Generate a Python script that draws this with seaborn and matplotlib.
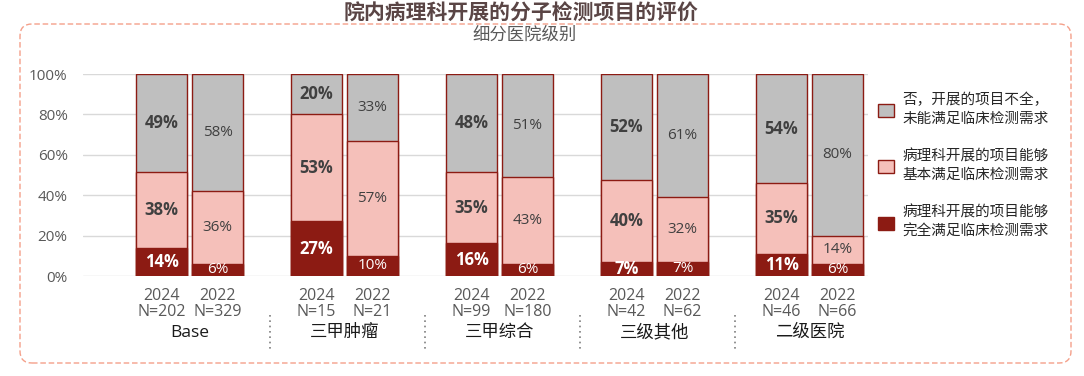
import matplotlib
matplotlib.use("Agg")
import matplotlib.pyplot as plt
import seaborn as sns
import pandas as pd
from matplotlib.patches import FancyBboxPatch, Patch

# ---------------- data ----------------
groups = ["Base", "三甲肿瘤", "三甲综合", "三级其他", "二级医院"]
years = ["2024", "2022"]
n_2024 = [202, 15, 99, 42, 46]
n_2022 = [329, 21, 180, 62, 66]
full_2024 = [14, 27, 16, 7, 11]
full_2022 = [6, 10, 6, 7, 6]
basic_2024 = [38, 53, 35, 40, 35]
basic_2022 = [36, 57, 43, 32, 14]
no_2024 = [49, 20, 48, 52, 54]
no_2022 = [58, 33, 51, 61, 80]
legend_labels = ["否，开展的项目不全，\n未能满足临床检测需求",
                 "病理科开展的项目能够\n基本满足临床检测需求",
                 "病理科开展的项目能够\n完全满足临床检测需求"]
title = "院内病理科开展的分子检测项目的评价"
subtitle = "细分医院级别"

# ---------------- style ----------------
GRAY = "#BFBFBF"
PINK = "#F5C0BA"
DARK = "#8C1B13"
EDGE = "#8C1B13"
TXT = "#404040"

sns.set_theme(style="white")
plt.rcParams["font.family"] = ["Open Sans", "Noto Sans CJK SC", "DejaVu Sans"]

W, H = 1084, 376
fig = plt.figure(figsize=(W / 100, H / 100), dpi=100)
ax = fig.add_axes([83 / W, 100 / H, (868 - 83) / W, 202 / H])

rows = []
fulls = [full_2024, full_2022]
basics = [basic_2024, basic_2022]
nos = [no_2024, no_2022]
ns = [n_2024, n_2022]
for g in range(len(groups)):
    for j, yr in enumerate(years):
        f, b, n_ = fulls[j][g], basics[j][g], nos[j][g]
        tot = f + b + n_
        rows.append(dict(pos=161.5 + 155 * g + 56 * j, year=yr, group=groups[g],
                         N=ns[j][g], full=f, basic=b, no=n_,
                         c1=f / tot * 100, c2=(f + b) / tot * 100, c3=100.0))
df = pd.DataFrame(rows)

for col, colr in [("c3", GRAY), ("c2", PINK), ("c1", DARK)]:
    sns.barplot(data=df, x="pos", y=col, native_scale=True, width=0.91,
                color=colr, saturation=1, edgecolor=EDGE, linewidth=1,
                errorbar=None, ax=ax, zorder=2)

# value labels
for _, r in df.iterrows():
    bold = r["year"] == "2024"
    fw = "bold" if bold else "normal"
    fs = 12 if bold else 11
    segs = [(r["c1"] / 2, r["full"], "white"),
            ((r["c1"] + r["c2"]) / 2, r["basic"], TXT),
            ((r["c2"] + 100) / 2, r["no"], TXT)]
    for yc, v, c in segs:
        ax.text(r["pos"], yc, f"{v}%", ha="center", va="center", fontsize=fs,
                fontweight=fw, color=c, zorder=5)

ax.set_xlim(83, 868)
ax.set_ylim(0, 100)
ax.set_xlabel("")
ax.set_ylabel("")
ax.set_xticks(df["pos"], labels=[f"{y}\nN={n}" for y, n in zip(df["year"], df["N"])])
ax.tick_params(axis="x", length=0, pad=9, labelsize=11.5, colors="#595959")
for t in ax.get_xticklabels():
    t.set_linespacing(1.0)
ax.set_yticks(range(0, 101, 20), labels=[f"{v}%" for v in range(0, 101, 20)])
ax.tick_params(axis="y", length=0, pad=11, labelsize=11, colors="#595959")
ax.yaxis.grid(True, color="#D9D9D9", lw=1)
ax.xaxis.grid(False)
ax.set_axisbelow(True)
for s in ax.spines.values():
    s.set_visible(False)

# group labels and separators
tr = ax.get_xaxis_transform()
for g, name in enumerate(groups):
    c = 189.5 + 155 * g
    ax.text(c, -0.282, name, transform=tr, ha="center", va="center",
            fontsize=12.5, color="#1a1a1a", clip_on=False)
    if g < len(groups) - 1:
        xs = c + 77.5 + 2.5
        ax.plot([xs, xs], [-0.193, -0.366], transform=tr, clip_on=False,
                color="#7F7F7F", lw=1.2, ls=(0, (1, 2.2)))

# legend
handles = [Patch(facecolor=GRAY, edgecolor=EDGE, lw=1),
           Patch(facecolor=PINK, edgecolor=EDGE, lw=1),
           Patch(facecolor=DARK, edgecolor=EDGE, lw=1)]
leg = fig.legend(handles, legend_labels, loc="upper left",
                 bbox_to_anchor=(878 / W, 1 - 93 / H), frameon=False,
                 fontsize=10.5, handlelength=1.1, handleheight=1.0,
                 handletextpad=0.6, labelspacing=1.55, borderpad=0,
                 borderaxespad=0)
for t in leg.get_texts():
    t.set_color("#262626")
    t.set_linespacing(1.35)

# titles
fig.text(521 / W, 1 - 14 / H, title, ha="center", va="center", fontsize=15,
         fontweight="bold", color="#5A4545")
fig.text(525 / W, 1 - 36 / H, subtitle, ha="center", va="center", fontsize=12.5,
         color="#595959")

# dashed rounded frame
frame = FancyBboxPatch((0.20, 0.13), 10.71 - 0.20, 3.52 - 0.13,
                       boxstyle="round,pad=0,rounding_size=0.12",
                       transform=fig.dpi_scale_trans, fill=False,
                       ls=(0, (4, 2)), ec="#F4A08A", lw=1)
fig.patches.append(frame)

fig.savefig("out.png", dpi=100)
